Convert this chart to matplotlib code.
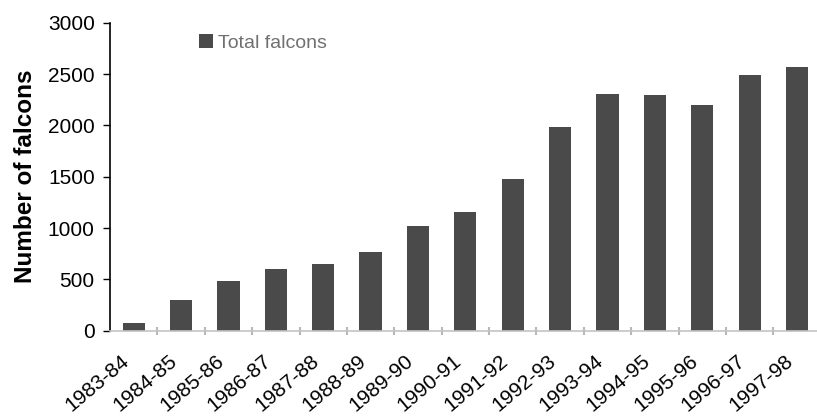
import matplotlib.pyplot as plt
import matplotlib.transforms as mtransforms
import numpy as np

seasons = ["1983-84", "1984-85", "1985-86", "1986-87", "1987-88",
           "1988-89", "1989-90", "1990-91", "1991-92", "1992-93",
           "1993-94", "1994-95", "1995-96", "1996-97", "1997-98"]
total_falcons = [80, 300, 480, 600, 650, 770, 1020, 1160, 1480, 1980,
                 2310, 2300, 2200, 2490, 2570]

plt.rcParams["font.family"] = ["Liberation Sans", "DejaVu Sans"]

fig = plt.figure(figsize=(8.17, 4.16), dpi=100)
ax = fig.add_axes([0.1346, 0.205, 0.870, 0.7405])

x = np.arange(len(seasons))
ax.bar(x, total_falcons, width=0.47, color="#4a4a4a", label="Total falcons",
       zorder=2)

ax.set_xlim(-0.5, len(seasons) - 0.5)
ax.set_ylim(0, 3000)
ax.set_yticks(range(0, 3001, 500))
ax.tick_params(axis="y", direction="out", length=5, width=1, colors="black",
               labelsize=15, pad=6)

ax.set_xticks(x)
ax.set_xticklabels(seasons, rotation=40, ha="right", rotation_mode="anchor",
                   fontsize=15)
ax.tick_params(axis="x", which="major", length=0, pad=15)
ax.set_xticks(x[:-1] + 0.5, minor=True)
ax.tick_params(axis="x", which="minor", direction="inout", length=6,
               width=1.5, color="#b8b8b8")
offset = mtransforms.ScaledTranslation(-13 / 100, 0, fig.dpi_scale_trans)
for lbl in ax.get_xticklabels():
    lbl.set_transform(lbl.get_transform() + offset)

for side in ["top", "right"]:
    ax.spines[side].set_visible(False)
ax.spines["left"].set_color("black")
ax.spines["left"].set_linewidth(1.2)
ax.spines["bottom"].set_color("#c4c4c4")
ax.spines["bottom"].set_linewidth(1.2)

ax.set_ylabel("Number of falcons", fontsize=17.5, fontweight="bold",
              labelpad=8)

leg = ax.legend(loc="center left", bbox_to_anchor=(0.1, 0.935), frameon=False,
                fontsize=14, handlelength=0.75, handleheight=0.75,
                handletextpad=0.25)
for t in leg.get_texts():
    t.set_color("#707070")

fig.savefig("out.png", dpi=100)
